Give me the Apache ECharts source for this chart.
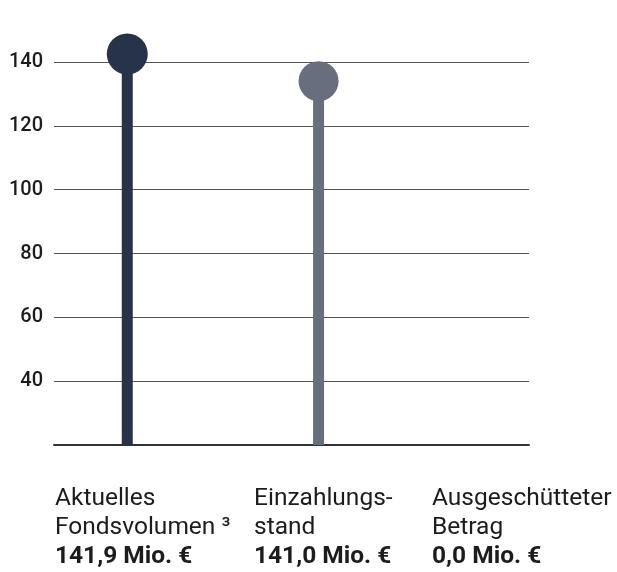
<!DOCTYPE html>
<html>
<head>
<meta charset="utf-8">
<script src="https://cdn.jsdelivr.net/npm/echarts@6/dist/echarts.min.js"></script>
<style>
html,body{margin:0;padding:0;background:#fff;}
#chart{width:617px;height:572px;}
</style>
</head>
<body>
<div id="chart"></div>
<script>
// Data
var categories = ['Aktuelles\nFondsvolumen ³', 'Einzahlungs-\nstand', 'Ausgeschütteter\nBetrag'];
var amountLabels = ['141,9 Mio. €', '141,0 Mio. €', '0,0 Mio. €'];
var values = [142.5, 134.0, 0];
var colors = ['#273348', '#676f7e', '#9aa0aa'];
var yTicks = [20, 40, 60, 80, 100, 120, 140];

var chart = echarts.init(document.getElementById('chart'), null, {renderer: 'canvas'});

var idx = categories.map(function (c, i) { return i; });
var barData = values.map(function (v, i) {
  return {value: [idx[i], v], itemStyle: {color: colors[i]}};
});
var dotData = values.map(function (v, i) {
  return {value: [idx[i], v], itemStyle: {color: colors[i], opacity: 1}, symbolSize: i === 0 ? 41 : 40};
});

var textX = [55, 254, 432];
var graphics = categories.map(function (c, i) {
  var parts = c.split('\n');
  return {
    type: 'text',
    left: textX[i],
    top: 486,
    style: {
      text: '{r|' + parts[0] + '}\n{r|' + parts[1] + '}\n{b|' + amountLabels[i] + '}',
      rich: {
        r: {fontFamily: 'Roboto', fontSize: 24.5, fontWeight: 400, lineHeight: 29, fill: '#1c1c1c'},
        b: {fontFamily: 'Roboto', fontSize: 24.5, fontWeight: 700, lineHeight: 29, fill: '#1c1c1c'}
      }
    }
  };
});

chart.setOption({
  animation: false,
  grid: {left: 54, right: 88, top: 62, bottom: 127},
  xAxis: {
    type: 'value',
    min: -0.383,
    max: 2.1,
    axisLine: {show: true, onZero: false, lineStyle: {color: '#333333', width: 2}},
    axisTick: {show: false},
    axisLabel: {show: false},
    splitLine: {show: false}
  },
  yAxis: {
    type: 'value',
    min: yTicks[0],
    max: yTicks[yTicks.length - 1],
    interval: 20,
    axisLine: {show: false},
    axisTick: {show: false},
    axisLabel: {
      showMinLabel: false,
      margin: 11,
      fontFamily: 'Roboto',
      fontSize: 20,
      fontWeight: 500,
      color: '#1c1c1c',
      padding: [0, 0, 8, 0]
    },
    splitLine: {show: true, lineStyle: {color: '#555555', width: 1}}
  },
  series: [
    {
      type: 'bar',
      barWidth: 11,
      clip: true,
      data: barData,
      z: 2
    },
    {
      type: 'scatter',
      symbol: 'circle',
      clip: false,
      data: dotData.filter(function (d) { return d.value[1] >= yTicks[0]; }),
      z: 3
    }
  ],
  graphic: graphics
});
</script>
</body>
</html>
